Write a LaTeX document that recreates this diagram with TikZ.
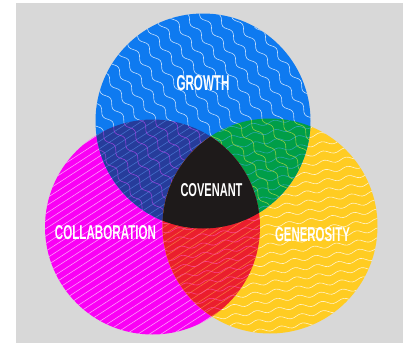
\documentclass[tikz,border=0pt]{standalone}
\usepackage{fontspec}
\setmainfont{Liberation Sans}
\usepackage{graphicx}
\usetikzlibrary{decorations.pathmorphing}
\definecolor{bggray}{RGB}{216,216,216}
\definecolor{cblue}{RGB}{14,122,240}
\definecolor{cpink}{RGB}{250,0,245}
\definecolor{cyellow}{RGB}{255,204,34}
\definecolor{cdark}{RGB}{38,60,155}
\definecolor{cgreen}{RGB}{0,158,72}
\definecolor{cred}{RGB}{235,30,45}
\definecolor{cblack}{RGB}{30,26,26}
\definecolor{lpurple}{RGB}{175,70,235}
\definecolor{llblue}{RGB}{90,145,235}
\definecolor{lyg}{RGB}{185,220,70}
\definecolor{lcyan}{RGB}{60,170,210}
\definecolor{lorange}{RGB}{250,165,70}
\definecolor{lpink}{RGB}{255,80,170}
\newcommand\bluepattern[1]{%
  \begin{scope}[shift={(203,121)},rotate=-53]
    \foreach \k in {-9,...,9}
      \draw[wave,#1,decorate,decoration={snake,segment length=20pt,amplitude=2.3pt}] (-120,\k*12.5) -- (120,\k*12.5);
  \end{scope}}
\newcommand\pinkpattern[1]{%
  \begin{scope}[shift={(152.5,227)},rotate=33]
    \foreach \k in {-18,...,18}
      \draw[wave,#1,draw opacity=0.6] (-115,\k*6.3) -- (115,\k*6.3);
  \end{scope}}
\newcommand\yellowpattern[1]{%
  \begin{scope}[shift={(270,226)},rotate=8]
    \foreach \k in {-12,...,12}
      \draw[wave,#1,decorate,decoration={snake,segment length=22pt,amplitude=1.8pt}] (-120,\k*9.3) -- (120,\k*9.3);
  \end{scope}}
\begin{document}
\begin{tikzpicture}[x=1pt,y=-1pt,
  wave/.style={line width=0.6pt,draw opacity=0.75},
  label/.style={text=white,inner sep=0pt,font=\bfseries}]
\useasboundingbox (0,0) rectangle (407,343);
\fill[white] (0,0) rectangle (407,343);
\fill[bggray] (16,3) rectangle (403,343);
\def\R{107.5}
\def\pinkc{(152.5,227) circle[radius=\R]}
\def\yelc{(270,226) circle[radius=\R]}
\def\bluec{(203,121) circle[radius=\R]}
% single circles
\fill[cpink] \pinkc;
\begin{scope}\clip \pinkc; \pinkpattern{white}\end{scope}
\fill[cyellow] \yelc;
\begin{scope}\clip \yelc; \yellowpattern{white}\end{scope}
\fill[cblue] \bluec;
\begin{scope}\clip \bluec; \bluepattern{white}\end{scope}
% overlaps
\begin{scope}\clip \pinkc; \clip \bluec;
  \fill[cdark] (0,0) rectangle (407,343);
  \pinkpattern{llblue}\bluepattern{lpurple}
\end{scope}
\begin{scope}\clip \yelc; \clip \bluec;
  \fill[cgreen] (0,0) rectangle (407,343);
  \yellowpattern{lcyan}\bluepattern{lyg}
\end{scope}
\begin{scope}\clip \pinkc; \clip \yelc;
  \fill[cred] (0,0) rectangle (407,343);
  \pinkpattern{lorange}\yellowpattern{lpink}
\end{scope}
\begin{scope}\clip \pinkc; \clip \yelc; \clip \bluec;
  \fill[cblack] (0,0) rectangle (407,343);
\end{scope}
% labels
\node[label] (growth) at (203,83.5) {\resizebox{53pt}{15pt}{GROWTH}};
\node[label] (covenant) at (211.5,190.5) {\resizebox{62pt}{13pt}{COVENANT}};
\node[label] (collab) at (105.5,233) {\resizebox{101pt}{14pt}{COLLABORATION}};
\node[label] (generosity) at (312.5,234.7) {\resizebox{75pt}{14pt}{GENEROSITY}};
\end{tikzpicture}
\end{document}
